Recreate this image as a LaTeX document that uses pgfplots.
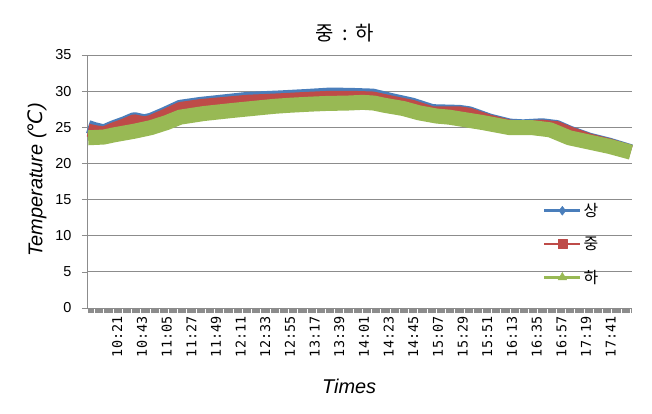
\documentclass[border=0pt]{standalone}
\usepackage{pgfplots}
\pgfplotsset{compat=1.18}
\usepackage{pgfplotstable}
\usepackage{fontspec}
\setmainfont{Liberation Sans}
\newfontfamily\kr{Noto Sans CJK KR}
\newfontfamily\mono{DejaVu Sans Mono}
\newfontfamily\dejavu{DejaVu Sans}
\definecolor{sblue}{HTML}{4A7EBB}
\definecolor{sred}{HTML}{BE4B48}
\definecolor{sgreen}{HTML}{98B954}
\definecolor{gridc}{HTML}{8C8C8C}

\pgfplotstableread{
m v
595 25.1
601 24.8
609 24.5
618 25.1
627 25.6
636 26.2
645 25.9
651 26.1
663 26.9
677 27.9
695 28.3
737 29.0
766 29.2
790 29.4
811 29.6
830 29.55
849 29.45
865 28.85
884 28.2
902 27.3
926 27.2
935 27.0
953 26.0
971 25.3
983 25.2
1000 25.35
1013 25.1
1024 24.35
1042 23.35
1060 22.65
1079 21.75
}\sang

\pgfplotstableread{
m v
595 24.6
601 24.4
609 24.2
618 24.8
627 25.3
636 25.9
645 25.6
651 25.8
663 26.6
677 27.6
695 28.0
737 28.6
766 28.8
790 29.0
811 29.15
830 29.15
849 29.05
865 28.5
884 27.9
902 27.0
926 27.0
935 26.8
953 25.85
971 25.15
983 25.05
1000 25.15
1013 24.95
1024 24.25
1042 23.25
1060 22.55
1079 21.65
}\jung

\pgfplotstableread{
m v
595 23.55
609 23.65
618 23.95
627 24.2
636 24.45
651 24.95
665 25.65
677 26.4
698 26.9
725 27.35
761 27.9
775 28.05
793 28.2
808 28.3
826 28.35
840 28.45
850 28.35
859 28.05
876 27.6
890 27.0
906 26.55
917 26.4
935 25.95
947 25.65
971 24.95
991 24.95
1007 24.65
1024 23.55
1042 22.95
1060 22.35
1079 21.55
}\ha

\begin{document}
\begin{tikzpicture}
\begin{axis}[
  scale only axis, width=545bp, height=253bp,
  xmin=594, xmax=1080, ymin=0, ymax=35,
  axis x line=bottom, axis y line=left,
  axis line style={-, draw=gridc, line width=0.8bp},
  ytick={0,5,...,35}, ymajorgrids,
  grid style={draw=gridc, line width=0.8bp},
  xtick={621,643,...,1061},
  xticklabels={10:21,10:43,11:05,11:27,11:49,12:11,12:33,12:55,13:17,13:39,14:01,14:23,14:45,15:07,15:29,15:51,16:13,16:35,16:57,17:19,17:41},
  minor xtick={595,...,1079},
  tick align=outside, major tick length=5bp, minor tick length=5bp,
  tick style={draw=gridc, line width=0.6bp},
  x tick label style={rotate=90, anchor=east, font=\mono\fontsize{13.5}{13.5}\selectfont},
  y tick label style={font=\fontsize{14.5}{14.5}\selectfont, xshift=-7bp},
  /pgf/number format/assume math mode=true,
  clip=false,
  title={\kr 중\hspace{8bp}:\hspace{8bp}하},
  every axis title/.style={at={(axis description cs:0.473,1.087)}, anchor=center, font=\fontsize{20}{20}\selectfont},
  xlabel={Times},
  every axis x label/.style={at={(axis description cs:0.481,-0.308)}, anchor=center, font=\itshape\fontsize{20}{20}\selectfont},
  ylabel={Temperature ({\dejavu\itshape ℃})},
  every axis y label/.style={at={(axis description cs:-0.0917,0.506)}, anchor=center, rotate=90, font=\itshape\fontsize{20}{20}\selectfont},
  legend style={at={(axis description cs:0.831,0.43)}, anchor=north west, draw=none, fill=none,
    font=\kr\fontsize{16}{16}\selectfont, row sep=15bp},
  legend cell align=left,
]
\addplot[sblue, line width=13bp, line join=round, mark=none,
  legend image code/.code={\draw[sblue, line width=2.5bp] (0bp,0bp) -- (36bp,0bp);
    \path plot[mark=diamond*, mark size=4.5bp, mark options={solid, line width=0.4bp, draw=sblue, fill=sblue}] coordinates {(18bp,0bp)};}
  ] table[x=m,y=v]{\sang};
\addlegendentry{상}
\addplot[sred, line width=13bp, line join=round, mark=none,
  legend image code/.code={\draw[sred, line width=2.5bp] (0bp,0bp) -- (36bp,0bp);
    \path plot[mark=square*, mark size=4.5bp, mark options={solid, line width=0.4bp, draw=sred, fill=sred}] coordinates {(18bp,0bp)};}
  ] table[x=m,y=v]{\jung};
\addlegendentry{중}
\addplot[sgreen, line width=15bp, line join=round, mark=none,
  legend image code/.code={\draw[sgreen, line width=2.5bp] (0bp,0bp) -- (36bp,0bp);
    \path plot[mark=triangle*, mark size=5bp, mark options={solid, line width=0.4bp, draw=sgreen, fill=sgreen}] coordinates {(18bp,0bp)};}
  ] table[x=m,y=v]{\ha};
\addlegendentry{하}
\coordinate (sw) at (rel axis cs:0,0);
\coordinate (ne) at (rel axis cs:1,1);
\end{axis}
\pgfresetboundingbox
\path[use as bounding box] ([shift={(-87bp,-106bp)}]sw) rectangle ([shift={(20bp,55bp)}]ne);
\end{tikzpicture}
\end{document}
